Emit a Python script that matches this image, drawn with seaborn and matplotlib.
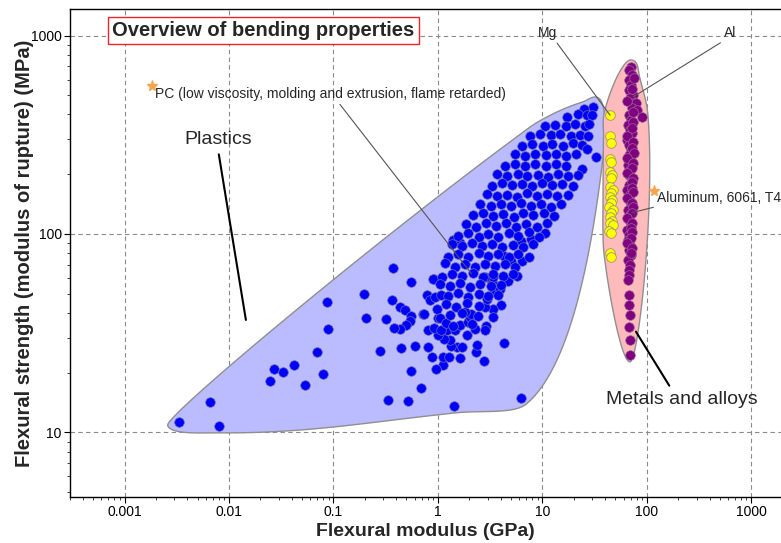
"""
Ashby-style chart: flexural strength vs flexural modulus,
plastics vs metals (Mg and Al), with rounded envelopes.
"""

import numpy as np
import matplotlib
matplotlib.use("Agg")
import matplotlib.pyplot as plt
import seaborn as sns
import pandas as pd
from matplotlib.ticker import FuncFormatter, NullFormatter, LogLocator

# ---- data: (modulus GPa, strength MPa) ----
plastics = [
    # low-modulus tail
    (0.0033, 11.3), (0.0080, 10.8), (0.0066, 14.2), (0.0246, 18.2), (0.027, 20.9),
    (0.0327, 20.1), (0.0415, 22.0), (0.0536, 17.4), (0.069, 25.4), (0.0787, 19.6),
    (0.087, 45.3), (0.089, 33.1), (0.194, 49.7), (0.206, 37.9), (0.278, 25.8),
    (0.33, 14.6), (0.52, 14.4), (0.69, 16.8), (1.44, 13.6), (6.27, 15.0),
    # scattered middle
    (0.37, 67.6), (0.55, 57.1), (0.92, 59.3), (0.365, 46.7), (0.435, 43.0),
    (0.486, 41.4), (0.55, 38.7), (0.545, 36.6), (0.49, 34.7), (0.435, 33.2),
    (0.38, 33.5), (0.318, 37.2), (0.72, 39.4), (0.78, 49.3), (0.84, 46.6),
    (0.93, 48.3), (1.08, 49.3), (0.80, 26.9), (0.60, 27.4), (0.44, 26.5),
    (0.55, 20.5), (0.88, 23.9), (1.11, 22.0), (0.95, 20.9), (1.13, 23.9),
    (1.29, 23.9), (1.62, 23.6), (2.77, 22.9), (2.33, 25.5), (2.35, 27.6),
    (4.32, 28.2), (2.88, 34.5), (2.82, 32.8), (2.26, 33.2), (1.92, 30.8),
    (1.51, 27.0), (1.72, 27.0), (1.33, 27.4), (1.32, 29.3), (1.15, 29.5),
    (1.0, 31.0), (1.21, 32.8), (0.80, 32.7), (0.91, 33.7), (1.07, 32.7),
    (1.0, 37.9), (0.97, 41.7), (0.73, 39.5), (1.04, 37.6), (1.19, 35.7),
    (1.45, 32.8), (1.62, 34.8), (1.95, 36.1), (2.02, 38.3), (1.41, 34.5),
    (2.1, 35.2), (2.07, 39.4), (1.8, 40.4), (4.04, 43.9), (3.36, 41.9),
    (2.82, 43.0), (2.93, 47.0), (3.44, 51.2), (3.95, 52.6), (3.31, 57.3),
    (3.34, 61.0), (2.82, 60.5), (4.65, 57.8), (5.71, 61.7), (6.42, 72.8),
    (5.04, 72.8), (4.27, 77.2), (7.77, 94.0), (6.24, 92.5), (10.7, 101),
    (1.4, 93), (1.62, 89.8), (0.9, 59),
    # dense band
    (30.3, 436), (25.2, 427), (17.1, 390), (21.8, 402), (26.8, 396), (30.0, 398),
    (10.6, 350), (13.3, 356), (16.7, 352), (20.5, 360), (25.8, 349), (28.2, 358),
    (7.6, 312), (9.5, 318), (12.0, 314), (14.7, 320), (18.8, 311), (23.1, 317), (27.6, 312),
    (6.4, 279), (8.0, 285), (10.1, 277), (12.5, 283), (15.7, 279), (19.6, 286), (24.1, 280), (26.7, 268),
    (5.5, 252), (6.9, 247), (8.6, 254), (10.8, 249), (13.5, 252), (16.9, 246), (21.1, 253), (32.6, 245),
    (4.4, 221), (5.5, 226), (6.9, 220), (8.6, 225), (10.8, 219), (13.4, 226), (16.8, 221), (23.8, 212),
    (3.7, 200), (4.6, 195), (5.8, 201), (7.2, 196), (9.0, 199), (11.3, 194), (14.0, 201), (17.6, 196), (22.0, 199),
    (3.3, 175), (4.1, 180), (5.1, 176), (6.4, 179), (8.0, 174), (10.0, 180), (12.5, 176), (15.6, 179), (19.5, 175),
    (2.95, 159), (3.7, 155), (4.6, 158), (5.7, 154), (7.1, 160), (8.9, 156), (11.1, 159), (13.9, 155), (17.5, 158),
    (2.55, 141), (3.2, 138), (4.0, 142), (5.0, 139), (6.2, 143), (7.8, 138), (9.7, 141), (12.1, 137), (15.2, 142),
    (2.16, 124), (2.7, 127), (3.4, 123), (4.2, 126), (5.3, 122), (6.6, 127), (8.2, 124), (10.3, 128), (12.8, 123),
    (1.85, 112), (2.3, 109), (2.9, 113), (3.6, 110), (4.5, 114), (5.6, 109), (7.0, 112), (8.8, 108), (11.0, 113),
    (1.55, 98), (1.95, 101), (2.45, 97), (3.05, 100), (3.8, 96.5), (4.75, 101), (5.9, 98), (7.4, 102), (9.2, 97),
    (1.36, 89), (1.7, 86.5), (2.1, 90), (2.65, 87), (3.3, 89.5), (4.1, 86), (5.2, 88.5), (6.5, 86), (8.1, 89),
    (1.25, 77), (1.55, 79.5), (1.95, 76.5), (2.45, 80), (3.05, 77.5), (3.8, 79), (4.75, 76.5), (5.9, 79.5), (7.4, 77),
    (1.17, 71.8), (1.45, 68.5), (1.8, 70.5), (2.25, 68), (2.8, 71), (3.5, 69), (4.4, 70.5), (5.5, 68.5),
    (1.1, 61), (1.38, 63), (1.72, 61.5), (2.15, 63.5), (2.7, 61), (3.35, 63), (4.2, 61.5), (5.2, 63),
    (1.05, 56), (1.3, 54.5), (1.62, 56.5), (2.05, 54), (2.55, 56), (3.2, 54.5), (4.0, 55.5),
    (1.25, 48.5), (1.55, 50.5), (1.95, 48), (2.45, 50), (3.05, 48.5), (3.8, 49.5),
    (1.2, 44.5), (1.5, 43), (1.9, 45), (2.45, 43.5),
    (1.3, 39), (1.7, 40), (2.4, 38.5), (3.4, 38),
]

magnesium = [
    (44.5, 397), (44, 312), (45, 287), (44.5, 240), (45.5, 231), (44, 206),
    (46, 198), (45, 191), (44.5, 173), (47, 167), (45.5, 160), (44, 154),
    (46.5, 148), (45, 143), (43.5, 137), (47, 132), (45, 127), (44, 122),
    (46, 116), (44.5, 113), (47.5, 111), (43.5, 103), (45.5, 101), (44.5, 80), (45.5, 77),
]

aluminum = [
    (70, 697), (68, 670), (72, 632), (67, 597), (71, 564), (68, 531), (74, 501),
    (69, 483), (76, 455), (79, 455), (72, 430), (81, 421), (90, 390), (67, 398),
    (71, 375), (66, 354), (69, 334), (72, 321), (64, 298), (67, 281), (70, 265),
    (67, 250), (71, 236), (66, 223), (69, 210), (67, 198), (72, 187), (68, 177),
    (64, 167), (69, 157), (67, 148), (71, 140), (66, 132), (69, 125), (67, 118),
    (70, 111), (64, 105), (68, 98.9), (66, 93.3), (69, 88.1), (67, 83), (70, 78.3),
    (66, 73.9), (69, 69.8), (67, 65.9), (68, 62.1), (66, 58.6), (67, 49.3),
    (68, 43.9), (68.5, 39.1), (68, 34.1), (68.5, 29.2), (68.5, 24.5),
    (75, 610), (73, 540), (65, 470), (74, 410), (74, 365), (73, 340), (65, 310),
    (74, 290), (73, 272), (75, 255), (64, 242), (74, 228), (73, 215), (64, 203),
    (74, 192), (73, 182), (72, 171), (74, 162), (64, 152), (73, 144), (74, 136),
    (72, 128), (64, 121), (73, 114), (71, 107), (72, 102), (71, 95), (64, 90),
    (72, 85), (71, 80),
]

x_ticks = [0.001, 0.01, 0.1, 1, 10, 100, 1000]
y_ticks = [10, 100, 1000]


def convex_hull(pts):
    p = sorted(set(map(tuple, np.round(pts, 3))))

    def cross(o, a, b):
        return (a[0] - o[0]) * (b[1] - o[1]) - (a[1] - o[1]) * (b[0] - o[0])

    lower, upper = [], []
    for q in p:
        while len(lower) >= 2 and cross(lower[-2], lower[-1], q) <= 0:
            lower.pop()
        lower.append(q)
    for q in reversed(p):
        while len(upper) >= 2 and cross(upper[-2], upper[-1], q) <= 0:
            upper.pop()
        upper.append(q)
    return np.array(lower[:-1] + upper[:-1])  # counter-clockwise


def envelope(ax, pts, pad=7.0, handle=0.38, miter_cap=0.6, n=30):
    """Rounded envelope around points, computed in display pixels.

    Hull vertices are pushed outwards along their bisector, then joined
    with cubic Bezier segments whose tangents are perpendicular to the
    bisector; handles shrink at sharp corners so tips stay narrow.
    """
    disp = ax.transData.transform(np.asarray(pts, dtype=float))
    hull = convex_hull(disp)
    kept = [hull[0]]
    for q in hull[1:]:
        if np.linalg.norm(q - kept[-1]) > 5:
            kept.append(q)
    if np.linalg.norm(kept[0] - kept[-1]) < 5:
        kept.pop()
    hull = np.array(kept)

    N = len(hull)
    Q, T, W = [], [], []
    for i in range(N):
        a, p, b = hull[i - 1], hull[i], hull[(i + 1) % N]
        d1, d2 = p - a, b - p
        n1 = np.array([d1[1], -d1[0]]) / np.linalg.norm(d1)
        n2 = np.array([d2[1], -d2[0]]) / np.linalg.norm(d2)
        m = n1 + n2
        m /= np.linalg.norm(m)
        c = np.dot(m, n1)  # cos(half turn angle)
        Q.append(p + m * pad / max(c, miter_cap))
        T.append(np.array([-m[1], m[0]]))
        W.append(c ** 3)
    t = np.linspace(0, 1, n, endpoint=False)[:, None]
    out = []
    for i in range(N):
        j = (i + 1) % N
        p0, p3 = Q[i], Q[j]
        L = np.linalg.norm(p3 - p0)
        hmin = min(1.4 * pad, 0.4 * L)
        p1 = p0 + T[i] * max(L * handle * W[i], hmin)
        p2 = p3 - T[j] * max(L * handle * W[j], hmin)
        out.append((1 - t) ** 3 * p0 + 3 * (1 - t) ** 2 * t * p1
                   + 3 * (1 - t) * t ** 2 * p2 + t ** 3 * p3)
    curve = np.vstack(out)
    return ax.transData.inverted().transform(curve)


sns.set_style("white")
plt.rcParams["font.family"] = ["Liberation Sans", "DejaVu Sans"]

df_pl = pd.DataFrame(plastics, columns=["modulus", "strength"])
df_mg = pd.DataFrame(magnesium, columns=["modulus", "strength"])
df_al = pd.DataFrame(aluminum, columns=["modulus", "strength"])

fig = plt.figure(figsize=(7.81, 5.43), dpi=100)
ax = fig.add_axes([70 / 781, 1 - 497 / 543, 711 / 781, 488 / 543])
ax.set_xscale("log")
ax.set_yscale("log")
ax.set_xlim(3.0e-4, 1930)
ax.set_ylim(4.73, 1360)

# Envelopes
env_pl = envelope(ax, plastics, pad=7)
ax.fill(env_pl[:, 0], env_pl[:, 1], facecolor="#BBBBFF", edgecolor="#8f8f8f", lw=1, zorder=1)
env_mt = envelope(ax, magnesium + aluminum, pad=6, miter_cap=0.9)
ax.fill(env_mt[:, 0], env_mt[:, 1], facecolor="#FFBBBB", edgecolor="#8f8f8f", lw=1, zorder=1)

# Points
sns.scatterplot(data=df_pl, x="modulus", y="strength", color="#0000FF", s=48,
                edgecolor="#6f6fa8", linewidth=0.5, ax=ax, zorder=3, legend=False)
sns.scatterplot(data=df_mg, x="modulus", y="strength", color="#FFFF00", s=48,
                edgecolor="#9a9a6a", linewidth=0.6, ax=ax, zorder=3, legend=False)
sns.scatterplot(data=df_al, x="modulus", y="strength", color="#800080", s=48,
                edgecolor="#9a6a9a", linewidth=0.5, ax=ax, zorder=3, legend=False)

# Axes styling
ax.set_xticks(x_ticks)
ax.set_yticks(y_ticks)
fmt = FuncFormatter(lambda v, p: f"{v:g}")
ax.xaxis.set_major_formatter(fmt)
ax.yaxis.set_major_formatter(fmt)
ax.xaxis.set_minor_locator(LogLocator(base=10, subs=np.arange(2, 10)))
ax.yaxis.set_minor_locator(LogLocator(base=10, subs=np.arange(2, 10)))
ax.xaxis.set_minor_formatter(NullFormatter())
ax.yaxis.set_minor_formatter(NullFormatter())
ax.tick_params(which="major", direction="out", length=4, width=0.8, pad=2,
               labelsize=10, colors="black", bottom=True, left=True)
ax.tick_params(which="minor", direction="out", length=2.5, width=0.6, bottom=True, left=True)
ax.grid(True, which="major", linestyle=(0, (4, 3)), color="#8a8a8a", lw=0.8, zorder=0)
ax.set_axisbelow(True)
for s in ["left", "bottom", "top"]:
    ax.spines[s].set_color("black")
    ax.spines[s].set_linewidth(1.0)
ax.spines["right"].set_visible(False)

ax.set_xlabel("Flexural modulus (GPa)", fontsize=14, fontweight="bold", labelpad=3)
ax.set_ylabel("Flexural strength (modulus of rupture) (MPa)", fontsize=14.5,
              fontweight="bold", labelpad=-2)

# Title box
ax.text(0.059, 0.956, "Overview of bending properties", transform=ax.transAxes,
        fontsize=14.5, fontweight="bold", ha="left", va="center", zorder=6,
        bbox=dict(boxstyle="square,pad=0.22", facecolor="white", edgecolor="#E8262B", lw=1))

# Labels with leader lines
thin = dict(arrowstyle="-", color="#555555", lw=0.8, shrinkA=0, shrinkB=0)
ax.annotate("PC (low viscosity, molding and extrusion, flame retarded)",
            xy=(2.1, 63), xytext=(0.00195, 507), fontsize=10, ha="left", va="center",
            arrowprops=dict(thin, relpos=(0.52, 0.0)), zorder=5)
ax.annotate("Mg", xy=(44.5, 397), xytext=(11.1, 1030), fontsize=10, ha="center", va="center",
            arrowprops=dict(thin, relpos=(0.9, 0.0)), zorder=5)
ax.annotate("Al", xy=(73.8, 490), xytext=(626, 1030), fontsize=10, ha="center", va="center",
            arrowprops=dict(thin, relpos=(0.1, 0.0)), zorder=5)
ax.annotate("Aluminum, 6061, T4", xy=(72.1, 128), xytext=(124.5, 152), fontsize=10,
            ha="left", va="center", arrowprops=dict(thin, relpos=(0.05, 0.0)), zorder=5)

thick = dict(arrowstyle="-", color="black", lw=1.5, shrinkA=2, shrinkB=0)
ax.annotate("Plastics", xy=(0.0145, 36.9), xytext=(0.00781, 298), fontsize=14,
            ha="center", va="center", arrowprops=dict(thick, relpos=(0.5, 0.0)), zorder=5)
ax.annotate("Metals and alloys", xy=(78.8, 32.2), xytext=(217, 14.6), fontsize=14,
            ha="center", va="center", arrowprops=dict(thick, relpos=(0.44, 1.0)), zorder=5)

# Highlighted records (stars)
ax.plot([0.00182, 118], [557, 165], linestyle="none", marker="*", markersize=8,
        color="#F5A550", zorder=6)

fig.savefig("out.png", dpi=100)
